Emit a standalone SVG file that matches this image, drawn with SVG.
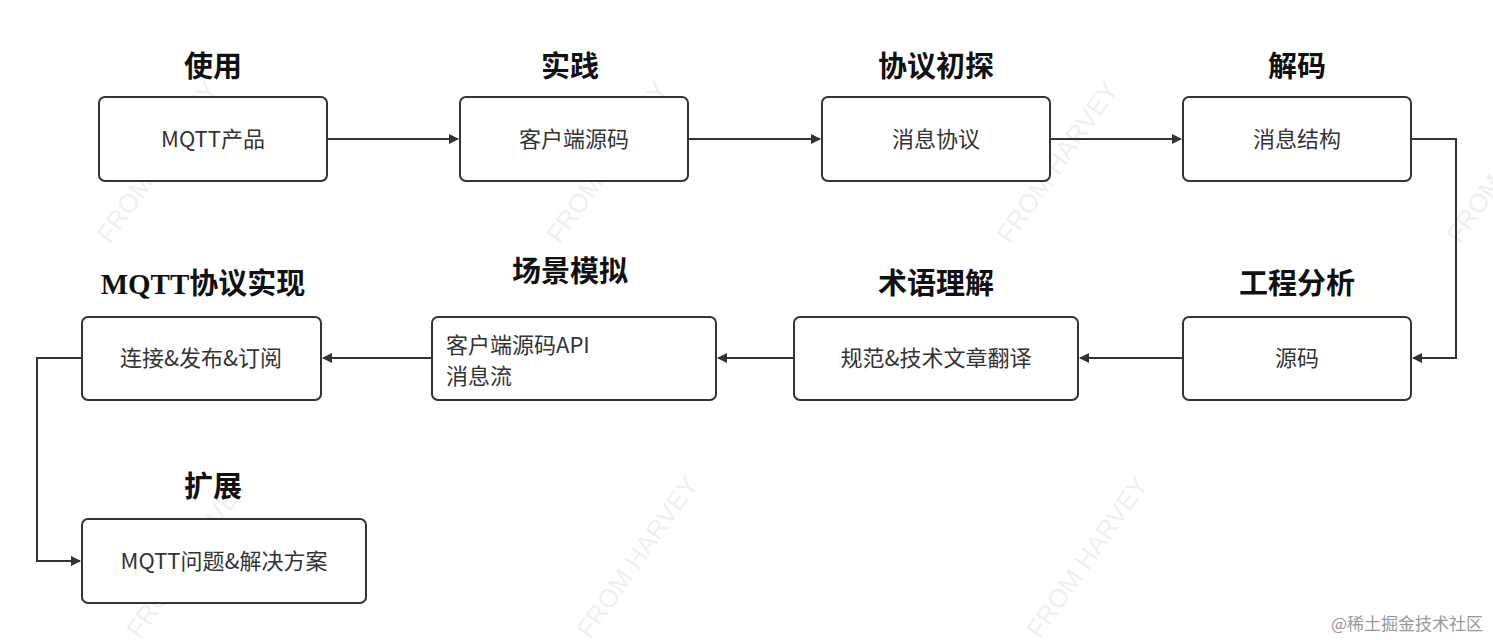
<svg xmlns="http://www.w3.org/2000/svg" width="1493" height="640" viewBox="0 0 1493 640">
<style>
.box{fill:#fff;stroke:#333;stroke-width:2}
.t{font-family:"Noto Sans CJK SC","Noto Sans",sans-serif;font-size:22px;fill:#333}
.h{font-family:"Liberation Serif","Noto Sans CJK SC",serif;font-size:29px;font-weight:bold;fill:#111}
.c{fill:none;stroke:#333;stroke-width:2}
.wm{font-family:"Liberation Sans",sans-serif;font-size:26px;fill:#000;opacity:0.06}
</style>
<defs><marker id="a" markerWidth="10" markerHeight="10" refX="9" refY="5" orient="auto" markerUnits="userSpaceOnUse"><path d="M0,0L10,5L0,10z" fill="#333"/></marker></defs>
<rect width="1493" height="640" fill="#fff"/>
<g>
<text class="wm" transform="translate(110,245) rotate(-55)">FROM HARVEY</text>
<text class="wm" transform="translate(560,245) rotate(-55)">FROM HARVEY</text>
<text class="wm" transform="translate(1010,245) rotate(-55)">FROM HARVEY</text>
<text class="wm" transform="translate(1460,245) rotate(-55)">FROM</text>
<text class="wm" transform="translate(140,640) rotate(-55)">FROM HARVEY</text>
<text class="wm" transform="translate(590,640) rotate(-55)">FROM HARVEY</text>
<text class="wm" transform="translate(1040,640) rotate(-55)">FROM HARVEY</text>
</g>
<g id="connectors">
<path class="c" d="M327,139H458" marker-end="url(#a)"/>
<path class="c" d="M688,139H820" marker-end="url(#a)"/>
<path class="c" d="M1050,139H1181" marker-end="url(#a)"/>
<path class="c" d="M1411,139H1456V358H1413" marker-end="url(#a)"/>
<path class="c" d="M1183,358H1080" marker-end="url(#a)"/>
<path class="c" d="M794,358H718" marker-end="url(#a)"/>
<path class="c" d="M432,358H323" marker-end="url(#a)"/>
<path class="c" d="M82,358H37V561H80" marker-end="url(#a)"/>
</g>
<g id="n1"><text class="h" x="213" y="77" text-anchor="middle">使用</text><rect class="box" x="99" y="97" width="228" height="84" rx="6"/><text class="t" x="213" y="147" text-anchor="middle">MQTT产品</text></g>
<g id="n2"><text class="h" x="570" y="77" text-anchor="middle">实践</text><rect class="box" x="460" y="97" width="228" height="84" rx="6"/><text class="t" x="574" y="147" text-anchor="middle">客户端源码</text></g>
<g id="n3"><text class="h" x="936" y="77" text-anchor="middle">协议初探</text><rect class="box" x="822" y="97" width="228" height="84" rx="6"/><text class="t" x="936" y="147" text-anchor="middle">消息协议</text></g>
<g id="n4"><text class="h" x="1297" y="77" text-anchor="middle">解码</text><rect class="box" x="1183" y="97" width="228" height="84" rx="6"/><text class="t" x="1297" y="147" text-anchor="middle">消息结构</text></g>
<g id="n5"><text class="h" x="1297" y="294" text-anchor="middle">工程分析</text><rect class="box" x="1183" y="317" width="228" height="83" rx="6"/><text class="t" x="1297" y="366" text-anchor="middle">源码</text></g>
<g id="n6"><text class="h" x="936" y="294" text-anchor="middle">术语理解</text><rect class="box" x="794" y="317" width="284" height="83" rx="6"/><text class="t" x="936" y="366" text-anchor="middle">规范&amp;技术文章翻译</text></g>
<g id="n7"><text class="h" x="570" y="282" text-anchor="middle">场景模拟</text><rect class="box" x="432" y="317" width="284" height="83" rx="6"/><text class="t" x="446" y="353">客户端源码API</text><text class="t" x="446" y="384">消息流</text></g>
<g id="n8"><text class="h" x="203" y="294" text-anchor="middle">MQTT协议实现</text><rect class="box" x="82" y="317" width="239" height="83" rx="6"/><text class="t" x="201" y="366" text-anchor="middle">连接&amp;发布&amp;订阅</text></g>
<g id="n9"><text class="h" x="213" y="497" text-anchor="middle">扩展</text><rect class="box" x="82" y="519" width="284" height="84" rx="6"/><text class="t" x="224" y="569" text-anchor="middle">MQTT问题&amp;解决方案</text></g>
<text x="1483" y="630" text-anchor="end" style="font-family:'Noto Sans CJK SC',sans-serif;font-size:17px;fill:#999">@稀土掘金技术社区</text>
</svg>
